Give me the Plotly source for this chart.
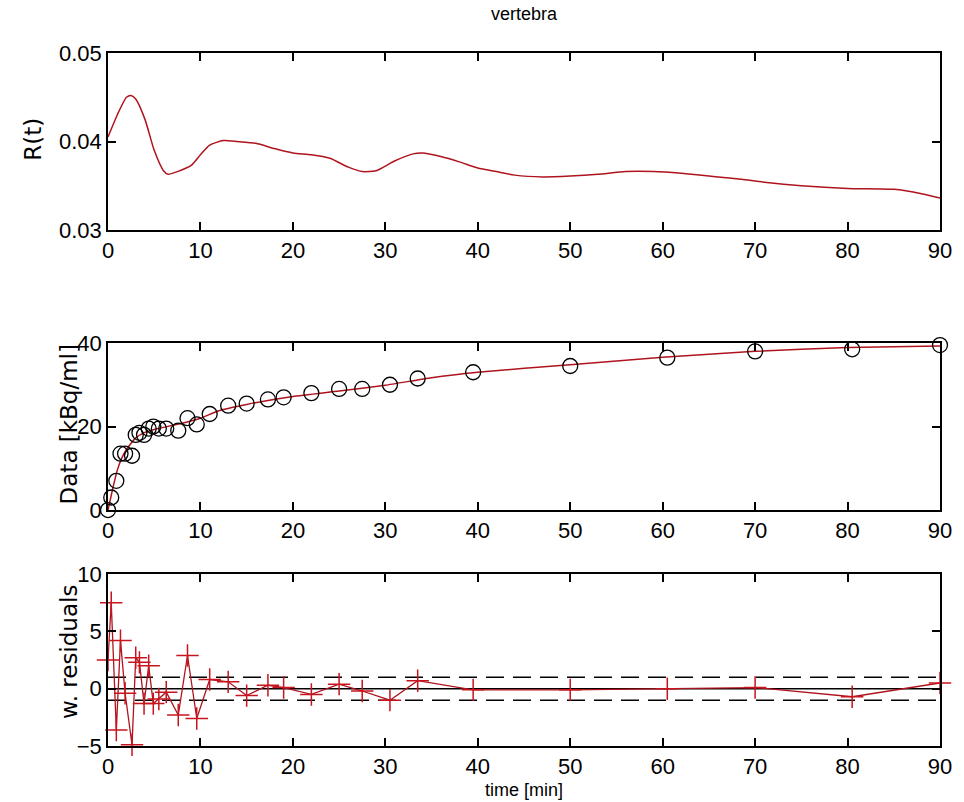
import plotly.graph_objects as go

# ---------------- data ----------------
r_t = [0, 1, 2, 2.5, 3, 4, 5, 6, 6.5, 7.5, 9, 10, 11, 12.5, 14, 16, 18, 20, 22, 24, 26,
       27.5, 29, 31, 33, 34, 36, 38, 40, 42, 44, 47, 50, 53, 56, 59, 62, 65, 68, 71, 75,
       80, 85, 88, 90]
r_val = [0.0405, 0.0430, 0.0450, 0.0452, 0.0448, 0.0425, 0.0390, 0.0367, 0.0363, 0.0366,
         0.0373, 0.0385, 0.0396, 0.0401, 0.0400, 0.0398, 0.0392, 0.0387, 0.0385, 0.0381,
         0.0371, 0.0366, 0.0367, 0.0378, 0.0386, 0.0387, 0.0383, 0.0377, 0.0370, 0.0366,
         0.0362, 0.0360, 0.0361, 0.0363, 0.0366, 0.0366, 0.0364, 0.0361, 0.0358, 0.0354,
         0.0350, 0.0347, 0.0346, 0.0341, 0.0336]

times = [0.0, 0.35, 0.9, 1.35, 1.85, 2.6, 3.0, 3.4, 3.9, 4.4, 4.9, 5.5, 6.3, 7.6, 8.6, 9.6,
         11.0, 13.0, 15.0, 17.3, 19.0, 22.0, 25.0, 27.5, 30.5, 33.5, 39.5, 50.0, 60.5, 70.0,
         80.5, 90.0]
data = [0.0, 3.0, 7.0, 13.5, 13.5, 13.0, 18.0, 18.5, 18.0, 19.5, 20.0, 19.5, 19.5, 19.0,
        22.0, 20.5, 23.0, 25.0, 25.5, 26.5, 27.0, 28.0, 29.0, 29.0, 30.0, 31.5, 33.0, 34.5,
        36.5, 38.0, 38.5, 39.5]
resid = [2.5, 7.5, -3.6, 4.2, -0.4, -4.9, 2.7, 2.3, -1.3, 2.0, -1.3, -0.9, -0.3, -2.3, 2.9,
         -2.6, 0.8, 0.6, -0.6, 0.3, 0.1, -0.5, 0.4, -0.2, -1.0, 0.7, -0.1, -0.1, 0.0, 0.1,
         -0.7, 0.5]

fit_t = [0, 0.5, 1, 1.5, 2, 2.5, 3, 4, 5, 6, 8, 10, 12, 15, 20, 25, 30, 35, 40, 50, 60,
         70, 80, 90]
fit_y = [0, 5, 9.5, 12.5, 14.5, 16, 17.3, 18.6, 19.3, 19.8, 20.8, 22, 23.8, 25.3, 27.2,
         28.5, 29.9, 31.7, 33, 34.8, 36.6, 38, 38.9, 39.3]

x_ticks = [0, 10, 20, 30, 40, 50, 60, 70, 80, 90]
band = [-1, 1]

# ---------------- style ----------------
RED_LINE = "rgb(175,20,30)"
RED_MARK = "rgb(200,20,30)"
NARROW = "Liberation Sans Narrow, Arial Narrow, Liberation Sans, Arial"
TICKFONT = dict(family=NARROW, size=22, color="black")
LABFONT = dict(family="DejaVu Sans, sans-serif", size=23, color="black")

fig = go.Figure()

# top: R(t)
fig.add_trace(go.Scatter(x=r_t, y=r_val, mode="lines", line=dict(color=RED_LINE, width=1.5,
                         shape="spline", smoothing=0.6), xaxis="x", yaxis="y",
                         showlegend=False))

# middle: data + fit
fig.add_trace(go.Scatter(x=fit_t, y=fit_y, mode="lines",
                         line=dict(color=RED_LINE, width=1.5, shape="spline", smoothing=0.5),
                         xaxis="x2", yaxis="y2", showlegend=False))
fig.add_trace(go.Scatter(x=times, y=data, mode="markers",
                         marker=dict(symbol="circle-open", size=15,
                                     line=dict(color="black", width=1.3), color="black"),
                         xaxis="x2", yaxis="y2", showlegend=False, cliponaxis=False))

# bottom: residuals
fig.add_trace(go.Scatter(x=[0, 90], y=[0, 0], mode="lines",
                         line=dict(color="black", width=1.5), xaxis="x3", yaxis="y3",
                         showlegend=False))
for b in band:
    fig.add_trace(go.Scatter(x=[0, 90], y=[b, b], mode="lines",
                             line=dict(color="black", width=1.5, dash="18px,9px"),
                             xaxis="x3", yaxis="y3", showlegend=False))
fig.add_trace(go.Scatter(x=times, y=resid, mode="lines+markers",
                         line=dict(color=RED_LINE, width=1.3),
                         marker=dict(symbol="cross-thin-open", size=16,
                                     line=dict(color=RED_MARK, width=1.5), color=RED_MARK),
                         xaxis="x3", yaxis="y3", showlegend=False, cliponaxis=False))

common_axis = dict(showline=True, linecolor="black", linewidth=1.5, mirror="ticks",
                   ticks="inside", ticklen=8, tickwidth=1.5, tickcolor="black",
                   showgrid=False, zeroline=False, tickfont=TICKFONT)

fig.update_layout(
    width=964, height=802,
    margin=dict(l=108, r=13, t=53, b=56),
    paper_bgcolor="white", plot_bgcolor="white",
    xaxis=dict(common_axis, domain=[0, 1], range=[0, 90], tickvals=x_ticks, anchor="y"),
    yaxis=dict(common_axis, domain=[0.7446, 1.0], range=[0.03, 0.05],
               tickvals=[0.03, 0.04, 0.05], ticktext=["0.03", "0.04", "0.05"], anchor="x"),
    xaxis2=dict(common_axis, domain=[0, 1], range=[0, 90], tickvals=x_ticks, anchor="y2"),
    yaxis2=dict(common_axis, domain=[0.3405, 0.5815], range=[0, 40],
                tickvals=[0, 20, 40], anchor="x2"),
    xaxis3=dict(common_axis, domain=[0, 1], range=[0, 90], tickvals=x_ticks, anchor="y3"),
    yaxis3=dict(common_axis, domain=[0, 0.248], range=[-5, 10],
                tickvals=[-5, 0, 5, 10], anchor="x3"),
)

fig.add_annotation(text="vertebra", xref="paper", yref="paper", x=0.5, y=1.0,
                   xanchor="center", yanchor="middle", yshift=39, showarrow=False,
                   font=dict(family=NARROW, size=18, color="black"))
fig.add_annotation(text="R(t)", xref="paper", yref="y", x=0, y=0.0402, xshift=-75,
                   xanchor="center", yanchor="middle",
                   textangle=-90, showarrow=False, font=LABFONT)
fig.add_annotation(text="Data [kBq/ml]", xref="paper", yref="y2", x=0, y=20.5, xshift=-39,
                   xanchor="center", yanchor="middle",
                   textangle=-90, showarrow=False, font=LABFONT)
fig.add_annotation(text="w. residuals", xref="paper", yref="y3", x=0, y=3.2, xshift=-39,
                   xanchor="center", yanchor="middle",
                   textangle=-90, showarrow=False, font=LABFONT)
fig.add_annotation(text="time [min]", xref="paper", yref="paper", x=0.5, y=0,
                   xanchor="center", yanchor="middle", yshift=-44, showarrow=False,
                   font=dict(family=NARROW, size=18, color="black"))

fig.write_html("out.html")
